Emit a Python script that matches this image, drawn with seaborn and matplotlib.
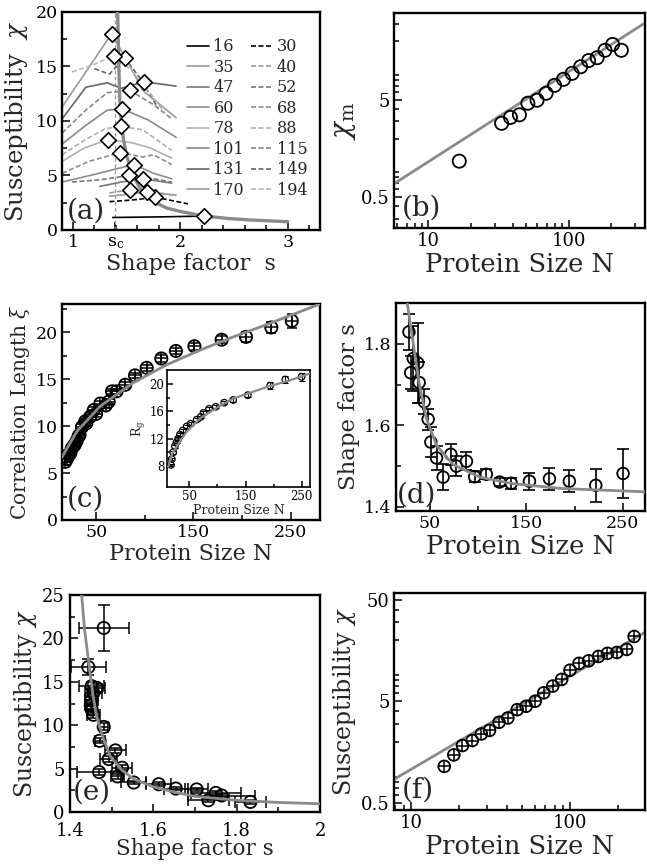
import numpy as np
import pandas as pd
import matplotlib
matplotlib.use("Agg")
import matplotlib.pyplot as plt
import seaborn as sns
from matplotlib.ticker import MultipleLocator, FixedLocator, FixedFormatter, NullFormatter, LogLocator
from matplotlib.lines import Line2D

# ---------------- data: panel (a) ----------------
a_N = [16, 30, 35, 40, 47, 52, 60, 68, 78, 88, 101, 115, 131, 149, 170, 194]
s16 = [1.37, 1.80, 2.22];                    x16 = [1.15, 1.20, 1.28]
s30 = [1.34, 1.55, 1.77, 2.07];              x30 = [2.6, 2.75, 3.0, 2.4]
s35 = [1.34, 1.53, 1.69, 1.96];              x35 = [3.1, 3.3, 3.5, 3.2]
s40 = [1.34, 1.53, 1.75, 1.92];              x40 = [3.4, 3.7, 3.5, 3.2]
s47 = [1.25, 1.45, 1.65, 1.92];              x47 = [4.0, 4.4, 4.7, 4.3]
s52 = [0.99, 1.25, 1.52, 1.75, 1.92];        x52 = [4.4, 4.6, 5.0, 4.7, 4.4]
s60 = [0.90, 1.20, 1.40, 1.57, 1.75, 1.92];  x60 = [4.4, 5.1, 5.6, 6.0, 5.2, 4.7]
s68 = [0.90, 1.15, 1.44, 1.65, 1.75, 1.92];  x68 = [5.2, 6.3, 7.1, 6.7, 6.9, 6.0]
s78 = [0.90, 1.10, 1.33, 1.55, 1.70, 1.92];  x78 = [6.3, 7.5, 8.3, 8.0, 7.6, 6.6]
s88 = [0.90, 1.10, 1.30, 1.45, 1.65, 1.92];  x88 = [6.9, 8.2, 9.3, 9.5, 9.2, 7.3]
s101 = [0.90, 1.12, 1.32, 1.46, 1.70, 1.96]; x101 = [7.9, 9.6, 11.0, 11.1, 10.1, 8.5]
s115 = [0.90, 1.12, 1.32, 1.53, 1.75, 1.92]; x115 = [8.9, 11.0, 12.6, 12.8, 11.5, 10.2]
s131 = [0.90, 1.12, 1.32, 1.45, 1.66, 1.96]; x131 = [10.2, 13.1, 13.5, 13.0, 13.6, 13.2]
s149 = [1.20, 1.34, 1.48, 1.62, 1.79];       x149 = [14.8, 14.3, 15.8, 14.0, 11.2]
s170 = [0.90, 1.12, 1.36, 1.50, 1.65, 1.96]; x170 = [11.3, 14.5, 18.0, 15.6, 12.8, 10.3]
s194 = [0.99, 1.20, 1.38, 1.55, 1.70, 1.85]; x194 = [14.5, 15.2, 16.0, 14.6, 12.8, 10.8]
a_peak_s = [2.224, 1.767, 1.689, 1.534, 1.652, 1.519, 1.571, 1.435, 1.326, 1.447, 1.457, 1.534, 1.658, 1.481, 1.363, 1.379]
a_peak_chi = [1.28, 3.0, 3.5, 3.7, 4.7, 5.0, 6.0, 7.1, 8.3, 9.5, 11.1, 12.8, 13.6, 15.8, 18.0, 16.0]
a_fit_s = [1.416, 1.425, 1.435, 1.45, 1.472, 1.50, 1.55, 1.62, 1.689, 1.78, 1.876, 2.0, 2.224, 2.45, 2.652, 3.0]
a_fit_chi = [20, 16, 12, 10, 8.2, 6.8, 5.2, 3.9, 3.05, 2.45, 2.0, 1.7, 1.28, 1.05, 0.92, 0.76]
s_c = 1.394

# ---------------- data: panel (b) ----------------
b_N = [16.6, 33.3, 38.5, 44.6, 51.2, 59.6, 69.1, 79.5, 92, 106, 122, 139, 160, 182, 206, 238]
b_chim = [1.17, 2.87, 3.30, 3.51, 4.62, 4.96, 5.85, 7.06, 8.14, 9.38, 10.97, 12.7, 13.6, 16.2, 18.6, 16.2]
b_fit_N = [5.68, 351]
b_fit_chi = [0.685, 31.0]

# ---------------- data: panel (c) ----------------
c_N = [18.4, 20, 22, 23.5, 25, 27, 28, 30, 32, 33, 35.5, 38.9, 40, 44, 47.6, 50, 54.4, 60, 63,
       66.4, 71, 80, 90, 102, 117, 132, 151, 179, 204, 230, 251]
c_xi = [6.2, 6.5, 6.9, 7.1, 7.6, 7.9, 8.0, 8.4, 8.9, 9.05, 9.9, 10.5, 10.3, 11.0, 11.7, 11.3, 12.4,
        12.2, 12.6, 13.7, 13.7, 14.4, 15.4, 16.2, 17.2, 18.0, 18.5, 19.2, 19.5, 20.5, 21.2]
c_err = [0.3, 0.3, 0.3, 0.3, 0.3, 0.3, 0.3, 0.3, 0.3, 0.3, 0.3, 0.3, 0.3, 0.3, 0.3, 0.3, 0.3,
         0.3, 0.3, 0.3, 0.3, 0.3, 0.3, 0.3, 0.35, 0.35, 0.4, 0.4, 0.5, 0.6, 0.75]
c_fit_N = [15, 30, 54, 88, 122, 157, 191, 225, 255, 280]
c_fit_xi = [6.7, 9.4, 12.1, 14.6, 16.5, 18.1, 19.5, 20.8, 22.0, 23.0]
i_N = [17, 18.4, 21, 24, 27, 30, 33, 38, 45, 52, 63, 70, 75, 85, 97, 112, 128, 154, 194, 221, 250]
i_rg = [8.15, 9.0, 10.0, 10.9, 11.5, 12.0, 12.6, 13.2, 13.8, 14.2, 14.8, 15.2, 15.8, 16.4, 16.7,
        17.3, 17.7, 18.4, 19.8, 20.7, 21.1]
i_err = [0.2, 0.2, 0.2, 0.2, 0.2, 0.2, 0.2, 0.2, 0.2, 0.2, 0.2, 0.2, 0.2, 0.2, 0.25, 0.25, 0.3,
         0.3, 0.5, 0.5, 0.6]
i_fit_N = [12.3, 20, 33, 45, 69, 100, 128, 188, 230, 265]
i_fit_rg = [7.9, 9.9, 11.6, 13.0, 15.0, 16.6, 17.9, 19.6, 20.6, 21.6]

# ---------------- data: panel (d) ----------------
d_N = [28.4, 30.2, 32.9, 37.5, 39.0, 44.2, 48.3, 51.1, 57.0, 63.8, 71.8, 77.6, 88.0, 96.5, 108.6,
       122.3, 134.4, 153.3, 174.0, 194.6, 222.0, 250.3]
d_s = [1.829, 1.729, 1.764, 1.753, 1.705, 1.658, 1.615, 1.559, 1.520, 1.473, 1.529, 1.500, 1.512,
       1.474, 1.480, 1.461, 1.458, 1.463, 1.469, 1.463, 1.453, 1.482]
d_err = [0.045, 0.04, 0.08, 0.097, 0.05, 0.03, 0.026, 0.036, 0.03, 0.032, 0.025, 0.025, 0.022,
         0.014, 0.012, 0.01, 0.013, 0.021, 0.027, 0.027, 0.041, 0.06]
d_fit_N = [26.7, 34.6, 39.8, 46.7, 57, 74.1, 101.7, 136, 187.7, 274]
d_fit_s = [1.899, 1.772, 1.693, 1.615, 1.551, 1.504, 1.473, 1.457, 1.445, 1.437]

# ---------------- data: panel (e) ----------------
e_s = [1.481, 1.444, 1.452, 1.464, 1.456, 1.452, 1.450, 1.452, 1.456, 1.481, 1.471, 1.509, 1.493,
       1.525, 1.470, 1.514, 1.553, 1.613, 1.654, 1.704, 1.732, 1.750, 1.764, 1.833]
e_chi = [21.2, 16.7, 14.5, 14.3, 13.7, 12.9, 12.3, 11.8, 11.2, 9.8, 8.2, 7.1, 6.1, 5.1, 4.6, 4.1,
         3.4, 3.2, 2.7, 2.6, 1.35, 2.2, 1.9, 1.16]
e_serr = [0.06, 0.042, 0.03, 0.02, 0.02, 0.015, 0.015, 0.012, 0.015, 0.01, 0.012, 0.025, 0.02,
          0.025, 0.054, 0.015, 0.03, 0.03, 0.028, 0.027, 0.05, 0.06, 0.08, 0.038]
e_chierr = [2.7, 0.9, 0.5, 0.5, 0.5, 0.5, 0.4, 0.4, 0.4, 0.4, 0.3, 0.3, 0.3, 0.3, 0.3, 0.3, 0.2,
            0.2, 0.2, 0.2, 0.2, 0.2, 0.2, 0.2]
e_fit_s = [1.428, 1.435, 1.444, 1.455, 1.464, 1.48, 1.497, 1.525, 1.553, 1.6, 1.65, 1.7, 1.8, 1.9, 2.0]
e_fit_chi = [25, 21, 17.6, 13.5, 11.0, 8.5, 6.4, 4.8, 3.8, 2.9, 2.3, 1.8, 1.35, 1.1, 0.95]

# ---------------- data: panel (f) ----------------
f_N = [16.2, 18.6, 21.1, 24.3, 27.7, 31.2, 35.8, 40.7, 46.6, 53, 60.4, 68.4, 77.9, 88.6, 100, 114,
       131, 151, 172, 197, 227, 253]
f_chi = [1.14, 1.48, 1.83, 2.05, 2.38, 2.58, 3.1, 3.42, 4.13, 4.46, 5.0, 6.05, 7.05, 8.2, 10.1,
         11.8, 12.5, 13.8, 14.8, 15.1, 16.2, 21.7]
f_fit_N = [7.83, 296]
f_fit_chi = [0.85, 23.9]

# ---------------- style ----------------
sns.set_style("ticks")
plt.rcParams["font.family"] = ["DejaVu Serif"]
plt.rcParams["mathtext.fontset"] = "dejavuserif"

FIT = "#8a8a8a"
W, H = 647, 866
fig = plt.figure(figsize=(6.47, 8.66), dpi=100)


def add_ax(l, t, r, b):
    return fig.add_axes([l / W, 1 - b / H, (r - l) / W, (b - t) / H])


def style(ax, lw=1.7, ls=12.5):
    for sp in ax.spines.values():
        sp.set_linewidth(lw)
        sp.set_color("black")
        sp.set_visible(True)
    ax.tick_params(which="both", direction="in", top=False, right=False,
                   labelsize=ls, width=1.1, colors="black", pad=3)
    ax.tick_params(which="major", length=6)
    ax.tick_params(which="minor", length=3.5)


def circles(ax, x, y, s, lw=1.3):
    sns.scatterplot(x=x, y=y, ax=ax, marker="o", s=s, facecolor="none",
                    edgecolor="black", linewidth=lw, zorder=4, legend=False)


def pluses(ax, x, y, s, lw=1.1):
    sns.scatterplot(x=x, y=y, ax=ax, marker="+", s=s, color="black",
                    linewidth=lw, zorder=4, legend=False)


axA = add_ax(62, 12, 320, 230)
axB = add_ax(394, 13, 645, 228)
axC = add_ax(62, 304, 320, 520)
axD = add_ax(396, 303, 645, 511)
axE = add_ax(70, 595, 320, 812)
axF = add_ax(394, 593, 645, 810)
axI = add_ax(167, 370, 310, 487)

# ---------------- (a) ----------------
curves = [(s16, x16), (s30, x30), (s35, x35), (s40, x40), (s47, x47), (s52, x52),
          (s60, x60), (s68, x68), (s78, x78), (s88, x88), (s101, x101), (s115, x115),
          (s131, x131), (s149, x149), (s170, x170), (s194, x194)]
a_col = ["black", "black", "#9a9a9a", "#9a9a9a", "#777777", "#777777", "#8c8c8c", "#8c8c8c",
         "#b0b0b0", "#b0b0b0", "#888888", "#888888", "#666666", "#666666", "#9a9a9a", "#b5b5b5"]
a_ls = ["-", (0, (3, 1.5))] * 8
handles = {}
for n, (sx, cy), col, ls in zip(a_N, curves, a_col, a_ls):
    sns.lineplot(x=sx, y=cy, ax=axA, color=col, linestyle=ls, lw=1.2, sort=False,
                 estimator=None, zorder=2, legend=False)
    handles[n] = Line2D([0], [0], color=col, linestyle=ls, lw=1.2)
axA.axvline(s_c, color="#999999", ls=(0, (3, 2)), lw=0.9, zorder=1)
sns.lineplot(x=a_fit_s, y=a_fit_chi, ax=axA, color=FIT, lw=2.4, sort=False, estimator=None,
             zorder=3, legend=False)
sns.scatterplot(x=a_peak_s, y=a_peak_chi, ax=axA, marker="D", s=62, facecolor="white",
                edgecolor="black", linewidth=1.2, zorder=5, legend=False)
order = [16, 35, 47, 60, 78, 101, 131, 170, 30, 40, 52, 68, 88, 115, 149, 194]
axA.legend([handles[n] for n in order], [str(n) for n in order], ncol=2, frameon=False,
           loc="upper left", bbox_to_anchor=(0.485, 0.88), borderaxespad=0, borderpad=0,
           fontsize=11.5, handlelength=1.4, handletextpad=0.25, labelspacing=0.22,
           columnspacing=0.4)
axA.set_xlim(0.898, 3.30)
axA.set_ylim(0, 20)
style(axA)
axA.xaxis.set_major_locator(FixedLocator([1, s_c, 2, 3]))
axA.xaxis.set_major_formatter(FixedFormatter(["1", r"$\mathregular{s_c}$", "2", "3"]))
axA.xaxis.set_minor_locator(MultipleLocator(0.2))
axA.yaxis.set_major_locator(MultipleLocator(5))
axA.yaxis.set_minor_locator(MultipleLocator(2.5))
axA.set_xlabel("Shape factor  s", fontsize=16, labelpad=1)
axA.set_ylabel(r"Susceptibility  $\chi$", fontsize=17.5, labelpad=4)
axA.text(0.02, 0.025, "(a)", transform=axA.transAxes, fontsize=20, ha="left", va="bottom")

# ---------------- (b) ----------------
axB.set_xscale("log")
axB.set_yscale("log")
sns.lineplot(x=b_fit_N, y=b_fit_chi, ax=axB, color=FIT, lw=2, zorder=2, legend=False)
circles(axB, b_N, b_chim, 90)
axB.set_xlim(5.68, 351)
axB.set_ylim(0.24, 39.2)
style(axB, ls=13)
axB.xaxis.set_major_locator(FixedLocator([10, 100]))
axB.xaxis.set_major_formatter(FixedFormatter(["10", "100"]))
axB.xaxis.set_minor_locator(LogLocator(base=10, subs=np.arange(2, 10)))
axB.xaxis.set_minor_formatter(NullFormatter())
axB.yaxis.set_major_locator(FixedLocator([0.5, 5, 50]))
axB.yaxis.set_major_formatter(FixedFormatter(["0.5", "5", "50"]))
axB.yaxis.set_minor_locator(LogLocator(base=10, subs=np.arange(2, 10)))
axB.yaxis.set_minor_formatter(NullFormatter())
axB.set_xlabel("Protein Size N", fontsize=18.5, labelpad=1)
axB.set_ylabel(r"$\chi_{\mathregular{m}}$", fontsize=20, labelpad=2)
axB.text(0.03, 0.03, "(b)", transform=axB.transAxes, fontsize=20, ha="left", va="bottom")

# ---------------- (c) ----------------
sns.lineplot(x=c_fit_N, y=c_fit_xi, ax=axC, color=FIT, lw=2, sort=False, estimator=None,
             zorder=5, legend=False)
axC.errorbar(c_N, c_xi, yerr=c_err, fmt="none", ecolor="black", elinewidth=1.1, capsize=3.5,
             capthick=1.1, zorder=3)
circles(axC, c_N, c_xi, 78)
pluses(axC, c_N, c_xi, 78)
axC.set_xlim(15, 280)
axC.set_ylim(0, 23)
style(axC, ls=12.5)
axC.xaxis.set_major_locator(FixedLocator([50, 150, 250]))
axC.xaxis.set_minor_locator(FixedLocator([100, 200]))
axC.yaxis.set_major_locator(MultipleLocator(5))
axC.yaxis.set_minor_locator(MultipleLocator(2.5))
axC.set_xlabel("Protein Size N", fontsize=16, labelpad=1)
axC.set_ylabel(r"Correlation Length $\xi$", fontsize=14.5, labelpad=3)
axC.text(0.02, 0.035, "(c)", transform=axC.transAxes, fontsize=20, ha="left", va="bottom")

# inset
sns.lineplot(x=i_fit_N, y=i_fit_rg, ax=axI, color=FIT, lw=1.6, sort=False, estimator=None,
             zorder=5, legend=False)
axI.errorbar(i_N, i_rg, yerr=i_err, fmt="none", ecolor="black", elinewidth=0.8, capsize=2,
             capthick=0.8, zorder=3)
circles(axI, i_N, i_rg, 22, lw=0.9)
axI.set_xlim(10, 265)
axI.set_ylim(4.9, 22.1)
style(axI, lw=1.2, ls=8.5)
axI.tick_params(which="major", length=4, pad=2)
axI.tick_params(which="minor", length=2)
axI.xaxis.set_major_locator(FixedLocator([50, 150, 250]))
axI.xaxis.set_minor_locator(FixedLocator([100, 200]))
axI.yaxis.set_major_locator(FixedLocator([8, 12, 16, 20]))
axI.yaxis.set_minor_locator(FixedLocator([10, 14, 18]))
axI.set_xlabel("Protein Size N", fontsize=9, labelpad=1)
axI.set_ylabel(r"R$_\mathregular{g}$", fontsize=9, labelpad=1)
axI.set_facecolor("white")

# ---------------- (d) ----------------
sns.lineplot(x=d_fit_N, y=d_fit_s, ax=axD, color=FIT, lw=2, sort=False, estimator=None,
             zorder=5, legend=False)
axD.errorbar(d_N, d_s, yerr=d_err, fmt="none", ecolor="black", elinewidth=1.2, capsize=4.5,
             capthick=1.2, zorder=3)
circles(axD, d_N, d_s, 70)
axD.set_xlim(15, 273)
axD.set_ylim(1.39, 1.9)
style(axD, ls=12.5)
axD.xaxis.set_major_locator(FixedLocator([50, 150, 250]))
axD.xaxis.set_minor_locator(FixedLocator([100, 200]))
axD.yaxis.set_major_locator(FixedLocator([1.4, 1.6, 1.8]))
axD.yaxis.set_major_formatter(FixedFormatter(["1.4", "1.6", "1.8"]))
axD.yaxis.set_minor_locator(FixedLocator([1.5, 1.7]))
axD.set_xlabel("Protein Size N", fontsize=18.5, labelpad=1)
axD.set_ylabel("Shape factor s", fontsize=16.5, labelpad=3)
axD.text(0.005, 0.01, "(d)", transform=axD.transAxes, fontsize=20, ha="left", va="bottom")

# ---------------- (e) ----------------
sns.lineplot(x=e_fit_s, y=e_fit_chi, ax=axE, color=FIT, lw=2, sort=False, estimator=None,
             zorder=5, legend=False)
axE.errorbar(e_s, e_chi, xerr=e_serr, yerr=e_chierr, fmt="none", ecolor="black",
             elinewidth=1.1, capsize=4, capthick=1.1, zorder=3)
circles(axE, e_s, e_chi, 78)
axE.set_xlim(1.4, 2.0)
axE.set_ylim(0, 25)
style(axE, ls=13)
axE.tick_params(axis="x", which="major", pad=7)
axE.tick_params(axis="y", which="major", pad=4)
axE.xaxis.set_major_locator(FixedLocator([1.4, 1.6, 1.8, 2.0]))
axE.xaxis.set_major_formatter(FixedFormatter(["1.4", "1.6", "1.8", "2"]))
axE.xaxis.set_minor_locator(FixedLocator([1.5, 1.7, 1.9]))
axE.yaxis.set_major_locator(MultipleLocator(5))
axE.yaxis.set_minor_locator(MultipleLocator(2.5))
axE.set_xlabel("Shape factor s", fontsize=15.5, labelpad=-1)
axE.set_ylabel(r"Susceptibility $\chi$", fontsize=17, labelpad=2)
axE.text(0.012, 0.03, "(e)", transform=axE.transAxes, fontsize=20, ha="left", va="bottom")

# ---------------- (f) ----------------
axF.set_xscale("log")
axF.set_yscale("log")
sns.lineplot(x=f_fit_N, y=f_fit_chi, ax=axF, color=FIT, lw=2, zorder=2, legend=False)
circles(axF, f_N, f_chi, 72)
pluses(axF, f_N, f_chi, 72)
axF.set_xlim(7.83, 296)
axF.set_ylim(0.424, 58.2)
style(axF, ls=13)
axF.xaxis.set_major_locator(FixedLocator([10, 100]))
axF.xaxis.set_major_formatter(FixedFormatter(["10", "100"]))
axF.xaxis.set_minor_locator(LogLocator(base=10, subs=np.arange(2, 10)))
axF.xaxis.set_minor_formatter(NullFormatter())
axF.yaxis.set_major_locator(FixedLocator([0.5, 5, 50]))
axF.yaxis.set_major_formatter(FixedFormatter(["0.5", "5", "50"]))
axF.yaxis.set_minor_locator(LogLocator(base=10, subs=np.arange(2, 10)))
axF.yaxis.set_minor_formatter(NullFormatter())
axF.set_xlabel("Protein Size N", fontsize=18.5, labelpad=1)
axF.set_ylabel(r"Susceptibility $\chi$", fontsize=17, labelpad=2)
axF.text(0.03, 0.03, "(f)", transform=axF.transAxes, fontsize=20, ha="left", va="bottom")

fig.savefig("out.png", dpi=100, facecolor="white")
